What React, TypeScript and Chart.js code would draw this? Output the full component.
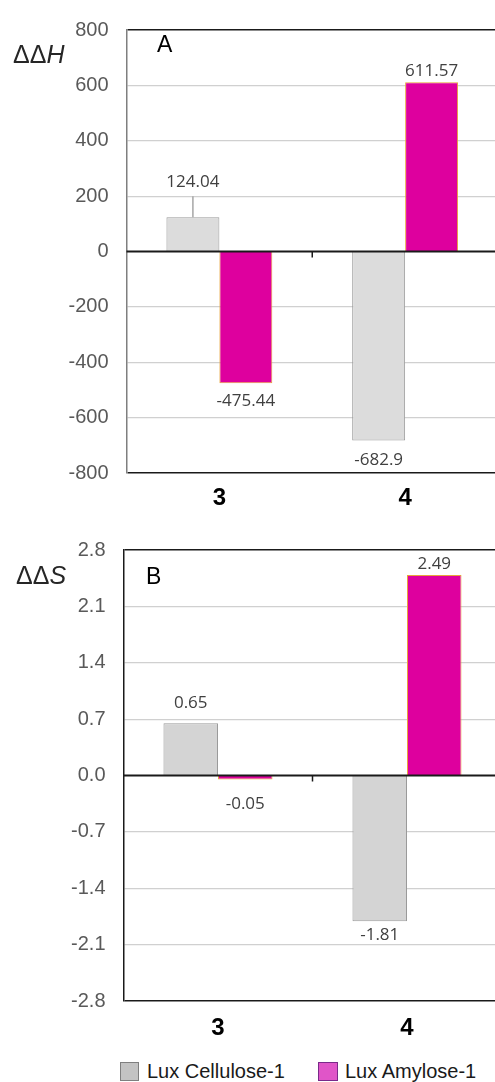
import React, { useEffect, useRef } from "react";
import { Chart, registerables } from "chart.js";

Chart.register(...registerables);

// ---------- data ----------
const CATEGORIES = ["3", "4"];
const SERIES_NAMES = ["Lux Cellulose-1", "Lux Amylose-1"];

const DH_CELLULOSE = [124.04, -682.9];
const DH_AMYLOSE = [-475.44, 611.57];
const DH_TICKS = [-800, -600, -400, -200, 0, 200, 400, 600, 800];
const DH_TICK_LABELS = ["-800", "-600", "-400", "-200", "0", "200", "400", "600", "800"];

const DS_CELLULOSE = [0.65, -1.81];
const DS_AMYLOSE = [-0.05, 2.49];
const DS_TICKS = [-2.8, -2.1, -1.4, -0.7, 0, 0.7, 1.4, 2.1, 2.8];
const DS_TICK_LABELS = ["-2.8", "-2.1", "-1.4", "-0.7", "0.0", "0.7", "1.4", "2.1", "2.8"];

// ---------- styles ----------
const FONT = '"Liberation Sans", Arial, sans-serif';
const LABEL_FONT = '"Open Sans", sans-serif';
const MAGENTA = "#de009e";
const MAGENTA_BORDER = "#e7a43a";

type Panel = {
  top: number;
  width: number;
  height: number;
  area: { top: number; bottom: number; left: number; right: number };
  cellulose: number[];
  amylose: number[];
  ticks: number[];
  tickLabels: string[];
  titleMain: string;
  titleItalic: string;
  titleX: number;
  titleBaseline: number;
  letter: string;
  letterX: number;
  letterBaseline: number;
  axisColor: string;
  grayFill: string;
  grayBorder: string;
  catPct: number;
  catPad: number;
  labelOffsets: number[][];
  leader: number[] | null;
};

const PANEL_A: Panel = {
  top: 0,
  width: 510,
  height: 520,
  area: { top: 22, bottom: 473, left: 126.5, right: 498 },
  cellulose: DH_CELLULOSE,
  amylose: DH_AMYLOSE,
  ticks: DH_TICKS,
  tickLabels: DH_TICK_LABELS,
  titleMain: "ΔΔ",
  titleItalic: "H",
  titleX: 13,
  titleBaseline: 63,
  letter: "A",
  letterX: 157,
  letterBaseline: 52,
  axisColor: "#7f7f7f",
  grayFill: "#dcdcdc",
  grayBorder: "#9a9a9a",
  catPct: 0.57,
  catPad: 11,
  labelOffsets: [
    [36, 18.5],
    [16.5, 12.5],
  ],
  leader: [0, 0],
};

const PANEL_B: Panel = {
  top: 520,
  width: 510,
  height: 530,
  area: { top: 30, bottom: 481, left: 123.5, right: 501.5 },
  cellulose: DS_CELLULOSE,
  amylose: DS_AMYLOSE,
  ticks: DS_TICKS,
  tickLabels: DS_TICK_LABELS,
  titleMain: "ΔΔ",
  titleItalic: "S",
  titleX: 16,
  titleBaseline: 64,
  letter: "B",
  letterX: 146,
  letterBaseline: 64,
  axisColor: "#1a1a1a",
  grayFill: "#d4d4d4",
  grayBorder: "#9a9a9a",
  catPct: 0.577,
  catPad: 13,
  labelOffsets: [
    [21, 12.5],
    [23.5, 12],
  ],
  leader: null,
};

function ChartPanel({ p }: { p: Panel }) {
  const ref = useRef<HTMLCanvasElement | null>(null);

  useEffect(() => {
    const canvas = ref.current;
    if (!canvas) return;
    const minV = p.ticks[0];
    const maxV = p.ticks[p.ticks.length - 1];

    const extras = {
      id: "extras",
      afterDatasetsDraw(chart: any) {
        const ctx = chart.ctx as CanvasRenderingContext2D;
        const ca = chart.chartArea;
        const xs = chart.scales.x;
        const ys = chart.scales.y;
        const y0 = ys.getPixelForValue(0);
        ctx.save();
        // zero line
        ctx.strokeStyle = "#1a1a1a";
        ctx.lineWidth = 2;
        ctx.beginPath();
        ctx.moveTo(ca.left, y0);
        ctx.lineTo(ca.right, y0);
        ctx.stroke();
        // minor tick between categories
        const xm = (xs.getPixelForValue(0) + xs.getPixelForValue(1)) / 2;
        ctx.lineWidth = 1.5;
        ctx.beginPath();
        ctx.moveTo(xm, y0);
        ctx.lineTo(xm, y0 + 6);
        ctx.stroke();

        // value labels
        ctx.font = `17px ${LABEL_FONT}`;
        ctx.fillStyle = "#404040";
        ctx.textAlign = "center";
        ctx.textBaseline = "alphabetic";
        chart.data.datasets.forEach((ds: any, di: number) => {
          const meta = chart.getDatasetMeta(di);
          meta.data.forEach((el: any, j: number) => {
            const v = ds.data[j] as number;
            const off = p.labelOffsets[di][j];
            const cy = v >= 0 ? el.y - off : el.y + off;
            ctx.fillText(String(v), el.x, cy + 6);
            if (p.leader && p.leader[0] === di && p.leader[1] === j) {
              ctx.save();
              ctx.strokeStyle = "#a6a6a6";
              ctx.lineWidth = 1.5;
              ctx.beginPath();
              ctx.moveTo(el.x, cy + 15);
              ctx.lineTo(el.x, el.y);
              ctx.stroke();
              ctx.restore();
            }
          });
        });

        // axis title
        ctx.textAlign = "left";
        ctx.fillStyle = "#262626";
        ctx.font = `25px ${FONT}`;
        ctx.fillText(p.titleMain, p.titleX, p.titleBaseline);
        const w = ctx.measureText(p.titleMain).width;
        ctx.font = `italic 25px ${FONT}`;
        ctx.fillText(p.titleItalic, p.titleX + w, p.titleBaseline);

        // panel letter
        ctx.fillStyle = "#000";
        ctx.font = `23px ${FONT}`;
        ctx.fillText(p.letter, p.letterX, p.letterBaseline);
        ctx.restore();
      },
    };

    const chart = new Chart(canvas, {
      type: "bar",
      data: {
        labels: CATEGORIES,
        datasets: [
          {
            label: SERIES_NAMES[0],
            data: p.cellulose,
            backgroundColor: p.grayFill,
            borderColor: p.grayBorder,
            borderWidth: 1,
            categoryPercentage: p.catPct,
            barPercentage: 1,
          },
          {
            label: SERIES_NAMES[1],
            data: p.amylose,
            backgroundColor: MAGENTA,
            borderColor: MAGENTA_BORDER,
            borderWidth: 1,
            categoryPercentage: p.catPct,
            barPercentage: 1,
          },
        ],
      },
      options: {
        animation: false,
        responsive: false,
        devicePixelRatio: 1,
        layout: {
          padding: {
            top: p.area.top,
            right: p.width - p.area.right,
            bottom: 0,
            left: 0,
          },
        },
        plugins: {
          legend: { display: false },
          tooltip: { enabled: false },
        },
        scales: {
          x: {
            type: "category",
            grid: { display: false, drawTicks: false },
            border: { display: false },
            ticks: {
              color: "#000",
              font: { family: FONT, size: 24, weight: "bold" },
              padding: p.catPad,
            },
            afterFit: (s: any) => {
              s.height = p.height - p.area.bottom;
            },
          },
          y: {
            min: minV,
            max: maxV,
            afterBuildTicks: (s: any) => {
              s.ticks = p.ticks.map((v) => ({ value: v }));
            },
            ticks: {
              color: "#595959",
              font: { family: FONT, size: 20 },
              padding: 18,
              callback: (v: any) => {
                const i = p.ticks.indexOf(Number(v));
                return i >= 0 ? p.tickLabels[i] : "";
              },
            },
            grid: {
              drawTicks: false,
              color: (c: any) => {
                const v = c.tick ? c.tick.value : null;
                if (v === 0) return "rgba(0,0,0,0)";
                if (v === minV || v === maxV) return "#1a1a1a";
                return "#d0d0d0";
              },
              lineWidth: (c: any) => {
                const v = c.tick ? c.tick.value : null;
                if (v === minV || v === maxV) return 1.6;
                return 1.2;
              },
            },
            border: { display: true, color: p.axisColor, width: 1.5 },
            afterFit: (s: any) => {
              s.width = p.area.left;
            },
          },
        },
      } as any,
      plugins: [extras],
    });
    return () => chart.destroy();
  }, [p]);

  return (
    <canvas
      ref={ref}
      width={p.width}
      height={p.height}
      style={{
        position: "absolute",
        left: 0,
        top: p.top,
        width: p.width,
        height: p.height,
      }}
    />
  );
}

export default function App() {
  const legendText: React.CSSProperties = {
    position: "absolute",
    top: 1061,
    font: `20px ${FONT}`,
    lineHeight: "20px",
    color: "#1a1a1a",
    whiteSpace: "nowrap",
  };
  return (
    <div
      style={{
        position: "absolute",
        left: 0,
        top: 0,
        width: 495,
        height: 1082,
        overflow: "hidden",
        background: "#fff",
      }}
    >
      <ChartPanel p={PANEL_A} />
      <ChartPanel p={PANEL_B} />
      <div
        style={{
          position: "absolute",
          left: 120,
          top: 1062,
          width: 19,
          height: 19,
          boxSizing: "border-box",
          background: "#c3c3c3",
          border: "1px solid #7f7f7f",
        }}
      />
      <div style={{ ...legendText, left: 147 }}>{SERIES_NAMES[0]}</div>
      <div
        style={{
          position: "absolute",
          left: 318,
          top: 1062,
          width: 20,
          height: 19,
          boxSizing: "border-box",
          background: "#e055c8",
          border: "1px solid #7a2a8a",
        }}
      />
      <div style={{ ...legendText, left: 345 }}>{SERIES_NAMES[1]}</div>
    </div>
  );
}
